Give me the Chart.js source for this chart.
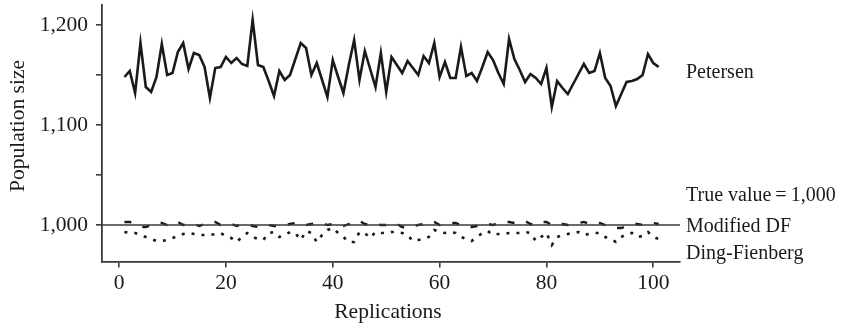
<!DOCTYPE html>
<html>
<head>
<meta charset="utf-8">
<script src="https://cdn.jsdelivr.net/npm/chart.js@4.4.1/dist/chart.umd.min.js"></script>
<style>
    html, body { margin: 0; padding: 0; background: #fff; }
    #wrap { width: 845px; height: 328px; }
</style>
</head>
<body>
<div id="wrap"><canvas id="popChart" width="845" height="328"></canvas></div>
<script>
// replication number (x axis)
const replications = [
    1, 2, 3, 4, 5, 6, 7, 8, 9, 10, 11, 12, 13, 14, 15, 16, 17, 18, 19, 20,
    21, 22, 23, 24, 25, 26, 27, 28, 29, 30, 31, 32, 33, 34, 35, 36, 37, 38, 39, 40,
    41, 42, 43, 44, 45, 46, 47, 48, 49, 50, 51, 52, 53, 54, 55, 56, 57, 58, 59, 60,
    61, 62, 63, 64, 65, 66, 67, 68, 69, 70, 71, 72, 73, 74, 75, 76, 77, 78, 79, 80,
    81, 82, 83, 84, 85, 86, 87, 88, 89, 90, 91, 92, 93, 94, 95, 96, 97, 98, 99, 100, 101
];

const petersen = [
    1148, 1154, 1132, 1182, 1138, 1133, 1148, 1181, 1150, 1152,
    1173, 1182, 1156, 1172, 1170, 1158, 1127, 1157, 1158, 1168,
    1162, 1167, 1161, 1159, 1205, 1160, 1158, 1144, 1129, 1154,
    1145, 1150, 1166, 1182, 1177, 1150, 1162, 1145, 1128, 1165,
    1148, 1132, 1160, 1185, 1145, 1174, 1156, 1138, 1172, 1133,
    1168, 1160, 1152, 1164, 1157, 1150, 1169, 1162, 1182, 1148,
    1163, 1147, 1147, 1178, 1149, 1152, 1144, 1158, 1173, 1165,
    1152, 1141, 1186, 1166, 1155, 1143, 1151, 1147, 1141, 1157,
    1118, 1144, 1137, 1131, 1141, 1151, 1161, 1152, 1154, 1172,
    1147, 1139, 1119, 1131, 1143, 1144, 1146, 1150, 1171, 1162, 1158
];

const modifiedDF = [
    1003, 1003, 1001, 998, 998, 1000, 1002, 1002, 1000, 1003,
    1003, 1000, 1001, 1001, 999, 1001, 1003, 1003, 1000, 1001,
    1001, 999, 1001, 1001, 999, 998, 998, 1000, 999, 999,
    1000, 1001, 1002, 1002, 1000, 1001, 1002, 1002, 1000, 1001,
    1001, 999, 1001, 1004, 1004, 1001, 1000, 1001, 1000, 1000,
    1001, 1001, 998, 997, 999, 1000, 1001, 1003, 1003, 1000,
    1001, 1002, 1002, 1000, 998, 998, 999, 1001, 1001, 1000,
    1002, 1003, 1003, 1002, 1003, 1004, 1001, 1000, 1003, 1003,
    1000, 1001, 1001, 1000, 1001, 1002, 1003, 1001, 1002, 1002,
    1000, 999, 997, 997, 999, 1001, 1001, 1000, 1002, 1002, 1001
];

const dingFienberg = [
    993, 992, 992, 990, 988, 986, 984, 984, 985, 987,
    989, 991, 992, 991, 990, 990, 990, 991, 992, 989,
    987, 983, 988, 992, 988, 986, 985, 992, 993, 988,
    990, 993, 992, 985, 994, 992, 983, 990, 995, 997,
    992, 988, 983, 983, 993, 992, 987, 993, 992, 992,
    993, 993, 992, 990, 984, 985, 986, 988, 995, 993,
    992, 993, 992, 988, 986, 984, 988, 992, 994, 990,
    991, 991, 992, 992, 992, 993, 992, 984, 988, 992,
    980, 988, 990, 991, 992, 993, 990, 991, 992, 992,
    988, 986, 983, 988, 991, 992, 988, 989, 993, 988, 986
];

const trueValue = 1000;

// axis settings
const xMin = -3.2, xMax = 105;
const yMin = 963.5, yMax = 1220;
const xTicks = [0, 20, 40, 60, 80, 100];
const yTicks = [1000, 1050, 1100, 1150, 1200];

// labels on the right side, anchored to a y value
const sideLabels = [
    { text: 'Petersen', value: 1152 },
    { text: 'True value\u2009=\u20091,000', value: 1029 },
    { text: 'Modified DF', value: 998 },
    { text: 'Ding-Fienberg', value: 971 }
];

const FONT = '"Liberation Serif", "Times New Roman", serif';
const INK = '#1a1a1a';
const AXIS = '#3a3a3a';

function toPoints(values) {
    return values.map((v, i) => ({ x: replications[i], y: v }));
}

// side labels and axis titles drawn by hand so they sit where the original has them
const textPlugin = {
    id: 'textBits',
    afterDraw(chart) {
        const ctx = chart.ctx;
        const yScale = chart.scales.y;
        ctx.save();
        ctx.fillStyle = INK;

        ctx.font = '20px ' + FONT;
        ctx.textAlign = 'left';
        ctx.textBaseline = 'middle';
        sideLabels.forEach(l => {
            ctx.fillText(l.text, chart.chartArea.right + 6, yScale.getPixelForValue(l.value));
        });

        ctx.font = '21.5px ' + FONT;
        ctx.textAlign = 'center';
        ctx.textBaseline = 'alphabetic';
        ctx.fillText('Replications', 388, 318);

        ctx.translate(18, 126);
        ctx.rotate(-Math.PI / 2);
        ctx.textBaseline = 'middle';
        ctx.fillText('Population size', 0, 0);
        ctx.restore();
    }
};

var ctx = document.getElementById('popChart').getContext('2d');
window.popChart = new Chart(ctx, {
    type: 'line',
    data: {
        datasets: [
            {
                label: 'True value',
                data: [{ x: xMin, y: trueValue }, { x: xMax, y: trueValue }],
                borderColor: AXIS,
                borderWidth: 1.6,
                pointRadius: 0
            },
            {
                label: 'Petersen',
                data: toPoints(petersen),
                borderColor: INK,
                borderWidth: 2.6,
                pointRadius: 0,
                tension: 0
            },
            {
                label: 'Modified DF',
                data: toPoints(modifiedDF),
                borderColor: INK,
                borderWidth: 2.4,
                borderDash: [7, 12],
                pointRadius: 0
            },
            {
                label: 'Ding-Fienberg',
                data: toPoints(dingFienberg),
                borderColor: INK,
                borderWidth: 2.6,
                borderDash: [3, 7],
                pointRadius: 0
            }
        ]
    },
    options: {
        responsive: false,
        animation: false,
        devicePixelRatio: 1,
        layout: { padding: { left: 0, right: 165, top: 5, bottom: 0 } },
        plugins: {
            legend: { display: false },
            tooltip: { enabled: false }
        },
        scales: {
            x: {
                type: 'linear',
                min: xMin,
                max: xMax,
                afterBuildTicks: scale => { scale.ticks = xTicks.map(v => ({ value: v })); },
                afterFit: scale => {
                    scale.height = 328 - 261.5;
                    scale.paddingLeft = 0;
                    scale.paddingRight = 0;
                },
                grid: { drawOnChartArea: false, drawTicks: true, tickLength: 6, color: AXIS, lineWidth: 1.6 },
                border: { display: true, color: AXIS, width: 1.8 },
                ticks: { color: INK, font: { family: FONT, size: 21.5 }, padding: 3, maxRotation: 0 },
                title: { display: false }
            },
            y: {
                min: yMin,
                max: yMax,
                afterBuildTicks: scale => { scale.ticks = yTicks.map(v => ({ value: v })); },
                afterFit: scale => {
                    scale.width = 102;
                    scale.paddingTop = 0;
                    scale.paddingBottom = 0;
                },
                grid: { drawOnChartArea: false, drawTicks: true, tickLength: 6, color: AXIS, lineWidth: 1.6 },
                border: { display: true, color: AXIS, width: 1.8 },
                ticks: {
                    color: INK,
                    font: { family: FONT, size: 21.5 },
                    padding: 8,
                    callback: v => (v % 100 === 0 ? v.toLocaleString('en-US') : '')
                },
                title: { display: false }
            }
        }
    },
    plugins: [textPlugin]
});
</script>
</body>
</html>
